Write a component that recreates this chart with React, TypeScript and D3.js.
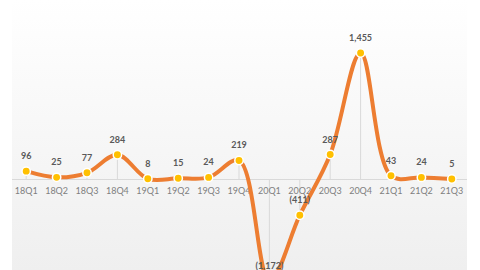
import React from "react";
import * as d3 from "d3";

const categories = ["18Q1","18Q2","18Q3","18Q4","19Q1","19Q2","19Q3","19Q4","20Q1","20Q2","20Q3","20Q4","21Q1","21Q2","21Q3"];
const values = [96, 25, 77, 284, 8, 15, 24, 219, -1172, -411, 287, 1455, 43, 24, 5];

const W = 480, H = 270;
const plotLeft = 11, plotRight = 467;
const x = d3.scaleBand<string>().domain(categories).range([plotLeft, plotRight]);
const y = d3.scaleLinear().domain([-1500, 2000]).range([309.85, 5.7]);

const fmt = (v: number) => (v < 0 ? `(${d3.format(",")(-v)})` : d3.format(",")(v));

export default function App() {
  const cx = (c: string) => (x(c) as number) + x.bandwidth() / 2;
  const pts: [number, number][] = categories.map((c, i) => [cx(c), y(values[i])]);
  const line = d3.line().curve(d3.curveCatmullRom.alpha(0.5))(pts) || "";
  const y0 = y(0);
  return (
    <svg width={W} height={H} style={{ position: "fixed", top: 0, left: 0, background: "#fff" }}>
      <defs>
        <linearGradient id="bg" x1="0" y1="0" x2="0" y2="1">
          <stop offset="0" stopColor="#ffffff" />
          <stop offset="1" stopColor="#efefef" />
        </linearGradient>
      </defs>
      <rect x={plotLeft + 1} y={0} width={plotRight - plotLeft - 1} height={H} fill="url(#bg)" />
      {categories.map((c, i) => (
        <line key={"d" + c} x1={cx(c)} x2={cx(c)} y1={y0} y2={y(values[i])} stroke="#d9d9d9" strokeWidth={1} />
      ))}
      <line x1={plotLeft + 1} x2={plotRight} y1={y0} y2={y0} stroke="#d9d9d9" strokeWidth={1} />
      {categories.map((c) => (
        <text key={"t" + c} x={cx(c)} y={y0 + 14} textAnchor="middle" fontFamily="Lato, sans-serif" fontSize={9} fill="#7f7f7f">
          {c}
        </text>
      ))}
      <path d={line} fill="none" stroke="#ED7D31" strokeWidth={4} strokeLinecap="round" />
      {pts.map(([px, py], i) => (
        <circle key={"m" + i} cx={px} cy={py} r={4.2} fill="#FFC000" stroke="#ffffff" strokeWidth={1.5} />
      ))}
      {pts.map(([px, py], i) => (
        <text key={"v" + i} x={px} y={py - 12} textAnchor="middle" fontFamily="Lato, sans-serif" fontWeight="bold" fontSize={9} fill="#595959">
          {fmt(values[i])}
        </text>
      ))}
    </svg>
  );
}
